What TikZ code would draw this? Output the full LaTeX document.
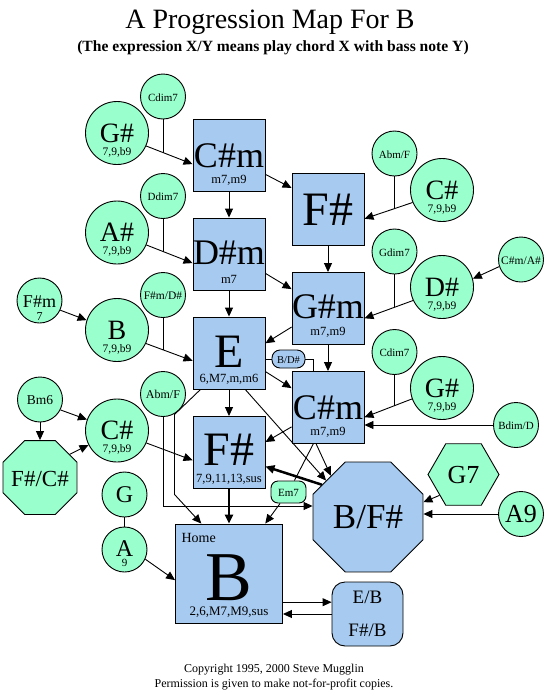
\documentclass[tikz,border=0pt]{standalone}
\usepackage{fontspec}
\setmainfont{Liberation Serif}
\usepackage{tikz}
\usetikzlibrary{calc, shapes.geometric, arrows.meta}
\definecolor{chordblue}{RGB}{166,202,240}
\definecolor{subgreen}{RGB}{153,255,204}
\newcommand{\fsz}[1]{\fontsize{#1}{#1}\selectfont}
\newcommand{\lbl}[2]{\makebox[0pt]{\raisebox{-#1}[0pt][0pt]{#2}}}
\tikzstyle{chordbox} = [rectangle, draw, fill=chordblue, minimum width=72pt, minimum height=72pt, inner sep=0pt, font=\fsz{12.5}]
\tikzstyle{subcircle} = [circle, draw, fill=subgreen, minimum size=63pt, inner sep=0pt, font=\fsz{11.5}]
\tikzstyle{passcircle} = [circle, draw, fill=subgreen, minimum size=45pt, inner sep=0pt, font=\fsz{11}]
\tikzstyle{octagon} = [regular polygon, regular polygon sides=8, draw, inner sep=0pt]
\tikzstyle{hexagon} = [regular polygon, regular polygon sides=6, draw, inner sep=0pt]
\tikzstyle{pill} = [rectangle, draw, inner sep=0pt]

\begin{document}
\begin{tikzpicture}[x=1pt, y=-1pt, line width=0.9pt, >={Triangle[length=9pt, width=8pt]}]

        \useasboundingbox (0, 0) rectangle (548, 694);

        \node[anchor=base, font=\fsz{28}] at (270, 28) (Title) {A Progression Map For B};
        \node[anchor=base, font=\bfseries\fsz{15.6}] at (273, 51) (Subtitle) {(The expression X/Y means play chord X with bass note Y)};

        \node[chordbox] at (229, 155) (CsMinor) {\lbl{12pt}{\fsz{36}C\#m}\lbl{28pt}{m7,m9}};
        \node[chordbox] at (328, 209) (FSharp) {\lbl{16pt}{\fsz{48}F\#}};
        \node[chordbox] at (229, 254) (DsMinor) {\lbl{10pt}{\fsz{36}D\#m}\lbl{29pt}{m7}};
        \node[chordbox] at (328, 308.5) (GsMinor) {\lbl{10pt}{\fsz{36}G\#m}\lbl{27pt}{m7,m9}};
        \node[chordbox] at (229, 353) (EChord) {\lbl{14.5pt}{\fsz{48}E}\lbl{29pt}{6,M7,m,m6}};
        \node[chordbox] at (328, 407.5) (CsMinorB) {\lbl{12pt}{\fsz{36}C\#m}\lbl{28pt}{m7,m9}};
        \node[chordbox] at (229, 452.5) (FSharpB) {\lbl{12.5pt}{\fsz{48}F\#}\lbl{30pt}{7,9,11,13,sus}};
        \node[chordbox, minimum width=107pt, minimum height=99pt,
              label={[anchor=base west, inner sep=0pt, xshift=6pt, yshift=-19pt, font=\fsz{14}]north west:Home}]
              at (229, 573.5) (BHome) {\lbl{26.5pt}{\fsz{70}B}\lbl{42pt}{\fsz{13}2,6,M7,M9,sus}};

        \node[octagon, fill=chordblue, minimum size=119pt] at (368, 517) (BOverFs) {\lbl{11pt}{\fsz{35}B/F\#}};
        \node[pill, fill=chordblue, rounded corners=13pt, minimum width=71pt, minimum height=64pt] at (367.5, 614) (EOverB) {\lbl{-11pt}{\fsz{19}E/B}\lbl{22.5pt}{\fsz{19}F\#/B}};
        \node[pill, fill=chordblue, rounded corners=8pt, minimum width=33pt, minimum height=18pt] at (288.5, 359) (BOverDs) {\lbl{4pt}{\fsz{10.5}B/D\#}};
        \node[pill, fill=subgreen, rounded corners=7pt, minimum width=35pt, minimum height=22pt] at (288.5, 492) (EmSeven) {\lbl{4pt}{\fsz{11}Em7}};

        \node[subcircle] at (117, 133) (GSharp) {\lbl{9pt}{\fsz{28}G\#}\lbl{22pt}{7,9,b9}};
        \node[subcircle] at (117, 232.5) (ASharp) {\lbl{9pt}{\fsz{28}A\#}\lbl{22pt}{7,9,b9}};
        \node[subcircle] at (442, 190) (CSharp) {\lbl{9pt}{\fsz{28}C\#}\lbl{22pt}{7,9,b9}};
        \node[subcircle] at (442, 287) (DSharp) {\lbl{9pt}{\fsz{28}D\#}\lbl{22pt}{7,9,b9}};
        \node[subcircle] at (117, 330) (BChord) {\lbl{9pt}{\fsz{28}B}\lbl{22pt}{7,9,b9}};
        \node[subcircle] at (117, 430.5) (CSharpB) {\lbl{9pt}{\fsz{28}C\#}\lbl{22pt}{7,9,b9}};
        \node[subcircle] at (442, 388) (GSharpB) {\lbl{9pt}{\fsz{28}G\#}\lbl{22pt}{7,9,b9}};

        \node[passcircle] at (163, 96.5) (CdimSeven) {\lbl{4.5pt}{Cdim7}};
        \node[passcircle] at (163, 196) (DdimSeven) {\lbl{4.5pt}{Ddim7}};
        \node[passcircle] at (394.5, 153.5) (AbmOverF) {\lbl{4.5pt}{Abm/F}};
        \node[passcircle] at (394.5, 251.5) (GdimSeven) {\lbl{4.5pt}{Gdim7}};
        \node[passcircle] at (521, 259.5) (CsmOverAs) {\lbl{4.5pt}{\fsz{11.5}C\#m/A\#}};
        \node[passcircle] at (163, 295) (FsmOverDs) {\lbl{4.5pt}{\fsz{11.5}F\#m/D\#}};
        \node[passcircle] at (163, 394) (AbmOverFB) {\lbl{4.5pt}{\fsz{12}Abm/F}};
        \node[passcircle] at (394.5, 352) (CdimSevenB) {\lbl{4.5pt}{Cdim7}};
        \node[passcircle] at (516, 425) (BdimOverD) {\lbl{4.5pt}{Bdim/D}};
        \node[passcircle] at (40, 399.5) (BmSix) {\lbl{5pt}{\fsz{13.5}Bm6}};
        \node[passcircle] at (39.5, 300.5) (FsMinor) {\lbl{6.5pt}{\fsz{18}F\#m}\lbl{19.5pt}{\fsz{12}7}};
        \node[passcircle] at (124.5, 494.5) (GChord) {\lbl{7.5pt}{\fsz{24}G}};
        \node[passcircle] at (124.5, 549.5) (AChord) {\lbl{7pt}{\fsz{24}A}\lbl{17pt}{9}};
        \node[passcircle] at (521, 514) (ANine) {\lbl{8pt}{\fsz{26}A9}};

        \node[octagon, fill=subgreen, minimum size=80pt] at (40, 477.5) (FsOverCs) {\lbl{9pt}{\fsz{23}F\#/C\#}};
        \node[hexagon, fill=subgreen, minimum size=71pt] at (463.5, 474.5) (GSeven) {\lbl{8.5pt}{\fsz{26}G7}};

        \draw[->] (GSharp.-24) -- coordinate[pos=0.364] (GSharpJoin) (CsMinor.194);
        \draw[-] (CdimSeven) -- (CdimSeven |- GSharpJoin);
        \draw[->] (CsMinor.-28) -- (FSharp.150);
        \draw[->] (CsMinor) -- (DsMinor);
        \draw[->] (CSharp.203) -- coordinate[pos=0.378] (CSharpJoin) (FSharp.-15);
        \draw[-] (AbmOverF) -- (AbmOverF |- CSharpJoin);
        \draw[->] (FSharp) -- (GsMinor);
        \draw[->] (DSharp.205) -- coordinate[pos=0.383] (DSharpJoin) (GsMinor.-15);
        \draw[-] (GdimSeven) -- (GdimSeven |- DSharpJoin);
        \draw[->] (CsmOverAs.198) -- (DSharp.15);
        \draw[->] (DsMinor.-28) -- (GsMinor.152);
        \draw[->] (DsMinor) -- (EChord);
        \draw[->] (ASharp.-23) -- coordinate[pos=0.362] (ASharpJoin) (DsMinor.194);
        \draw[-] (DdimSeven) -- (DdimSeven |- ASharpJoin);
        \draw[->] (FsMinor.-25) -- (BChord.162);
        \draw[->] (BChord.-25) -- coordinate[pos=0.368] (BChordJoin) (EChord.192);
        \draw[-] (FsmOverDs) -- (FsmOverDs |- BChordJoin);
        \draw[->] (GsMinor.207) -- (EChord.15);
        \draw[->] (GsMinor) -- (CsMinorB);
        \draw[->] (EChord.-27) -- (CsMinorB.152);
        \draw[-] (EChord.east |- BOverDs) -- (BOverDs);
        \draw[-] (BOverDs) -| ([xshift=-15pt]CsMinorB.north);
        \draw[->] (EChord) -- (FSharpB);
        \draw[->] (EChord.-66) -- (BOverFs.139);
        \draw[->] (EChord.232) -- ++(-26, 25) -- ++(0, 80) -- (BHome.119);
        \draw[->] (GSharpB.200) -- coordinate[pos=0.37] (GSharpBJoin) (CsMinorB.-15);
        \draw[-] (CdimSevenB) -- (CdimSevenB |- GSharpBJoin);
        \draw[->] (BdimOverD) -- (BdimOverD -| CsMinorB.east);
        \draw[->] (CsMinorB.208) -- (FSharpB.16);
        \draw[->] (CsMinorB.252) -- (BOverFs.132);
        \draw[-] (CsMinorB.248) -- (EmSeven);
        \draw[->] (EmSeven) -- (BHome.54);
        \draw[->] (AbmOverFB) |- ([yshift=11pt]BOverFs.west);
        \draw[->] (BmSix.-27) -- (CSharpB.160);
        \draw[->] (BmSix) -- (FsOverCs);
        \draw[->] (FsOverCs.38) -- (CSharpB.207);
        \draw[->] (CSharpB.-23) -- (FSharpB.192);
        \draw[->, line width=2.5pt] (BOverFs.145) -- (FSharpB.-21);
        \draw[->, line width=2.5pt] (FSharpB) -- (BHome);
        \draw[-] (GChord) -- (AChord);
        \draw[->] (AChord.-25) -- (BHome.187);
        \draw[->] (GSeven.221) -- (BOverFs.15);
        \draw[->] (ANine) -- (ANine -| BOverFs.east);
        \draw[->] (BHome.-28) -- (BHome.-28 -| EOverB.west);
        \draw[->] (EOverB.west) -- (EOverB.west -| BHome.east);

        \node[anchor=base, font=\fsz{12}] at (274, 672) (Copyright) {Copyright 1995, 2000 Steve Mugglin};
        \node[anchor=base, font=\fsz{12}] at (274, 687) (Permission) {Permission is given to make not-for-profit copies.};

    \end{tikzpicture}
\end{document}
